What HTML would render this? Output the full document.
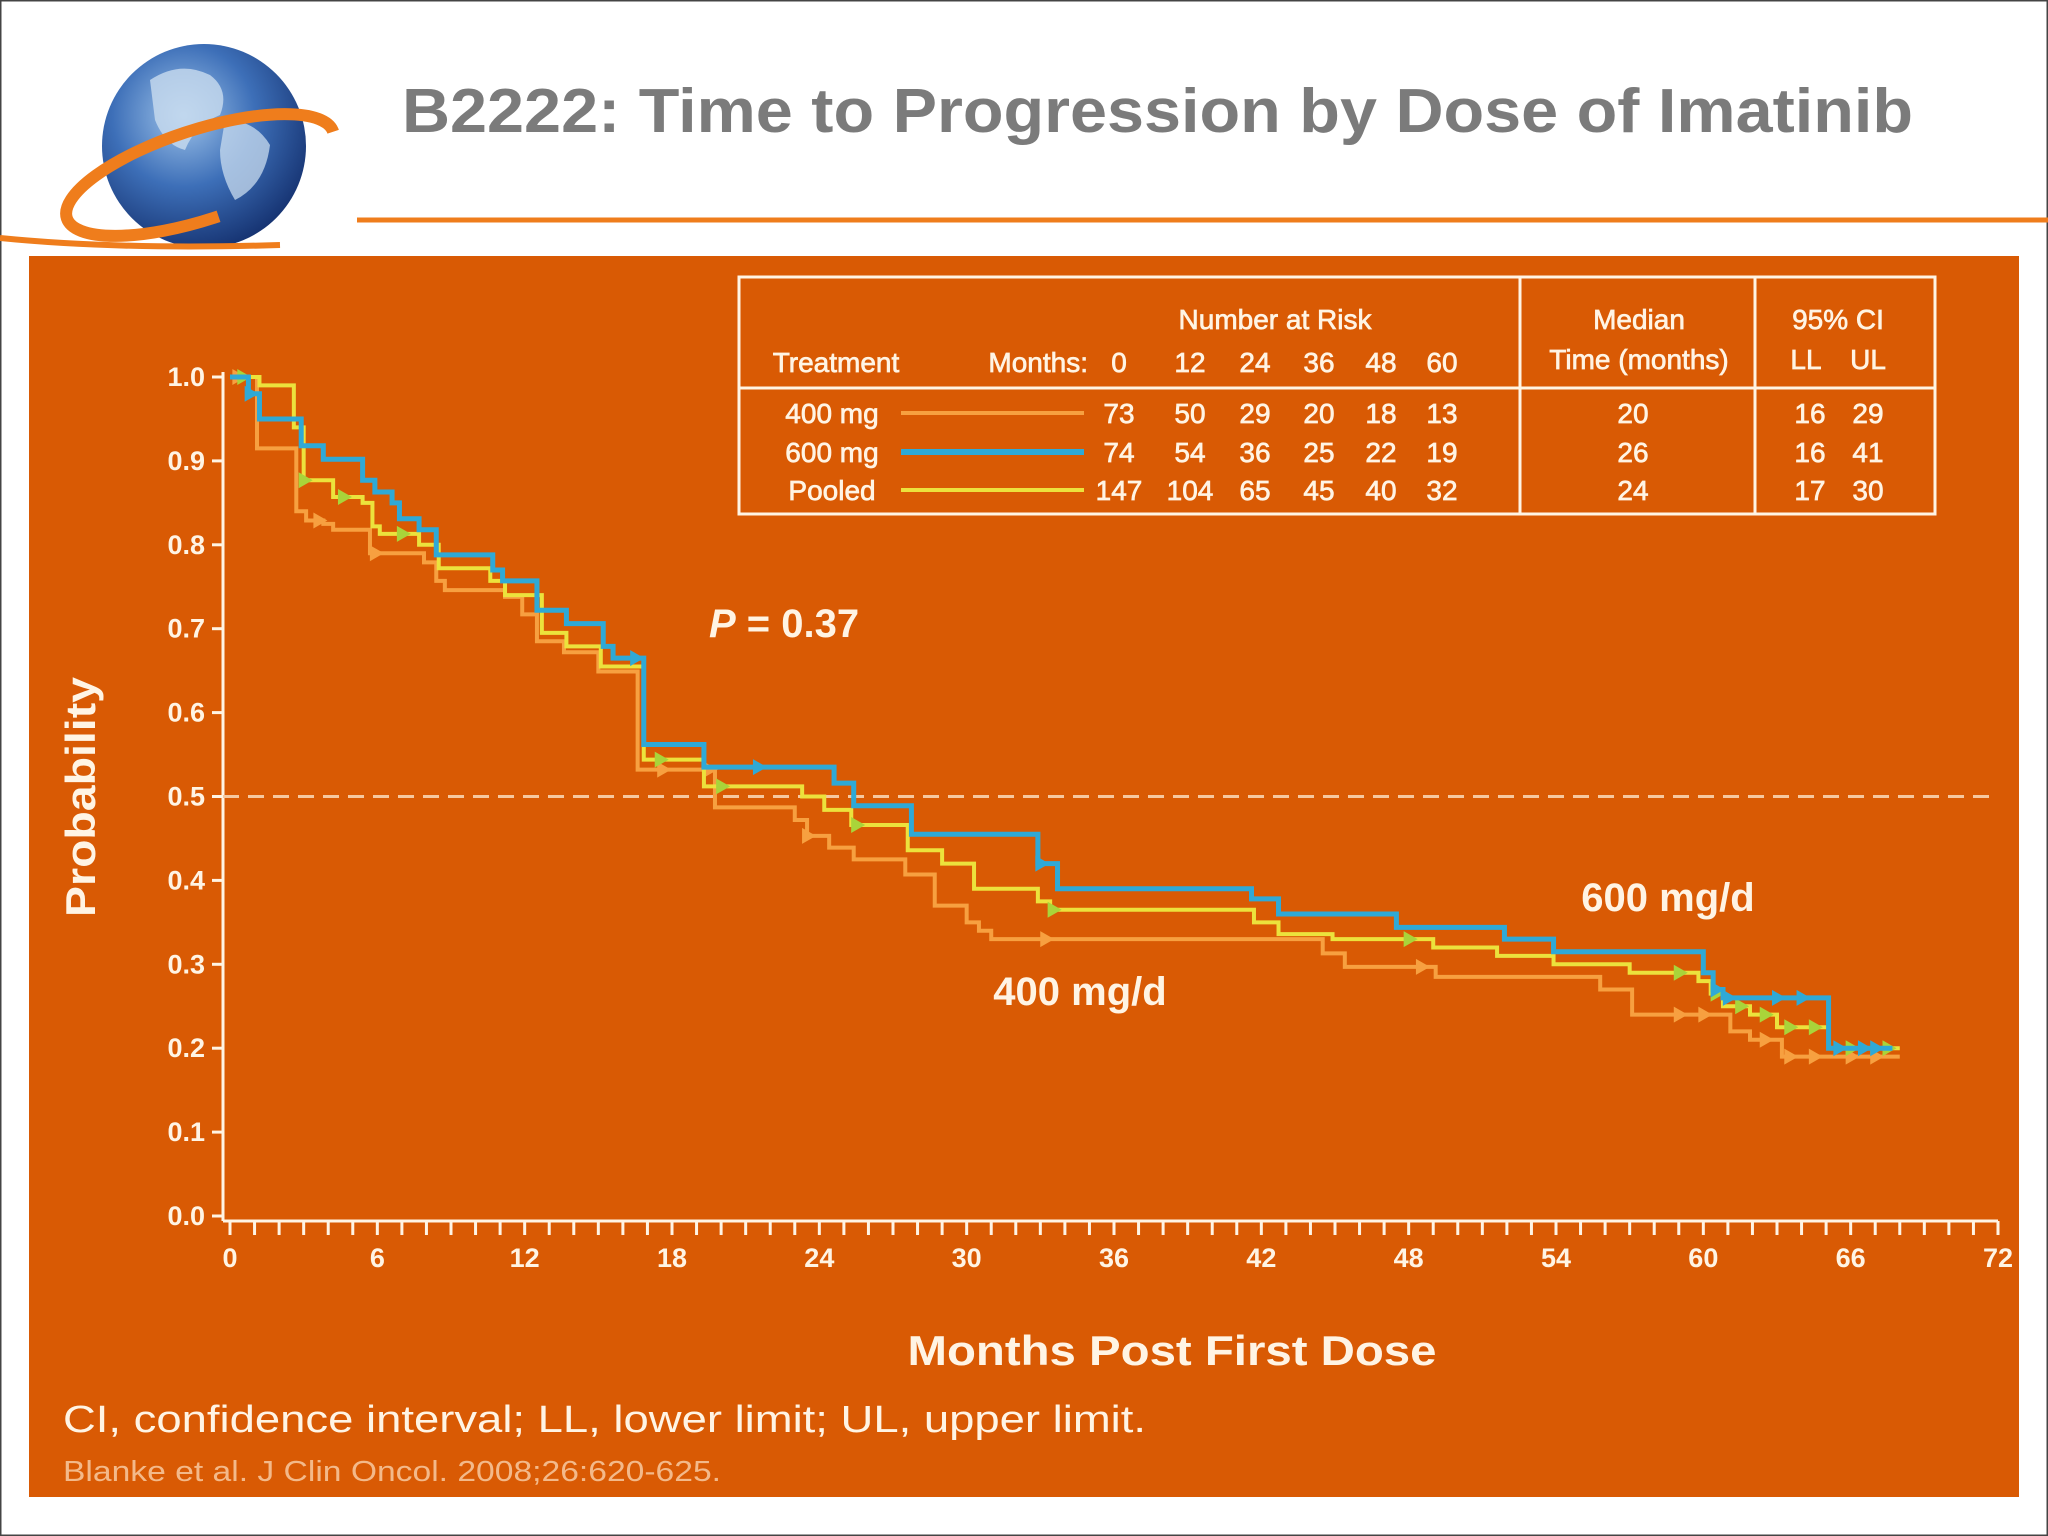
<!DOCTYPE html>
<html><head><meta charset="utf-8"><style>
html,body{margin:0;padding:0;background:#fff}
svg{display:block}
text{font-family:"Liberation Sans",sans-serif}
</style></head><body>
<svg id="c" width="2048" height="1536" viewBox="0 0 2048 1536">
<defs>
<radialGradient id="gb" cx="0.4" cy="0.35" r="0.7">
<stop offset="0" stop-color="#9fc4ea"/><stop offset="0.5" stop-color="#3d6fb8"/><stop offset="1" stop-color="#14306e"/>
</radialGradient>
</defs>
<rect x="0.5" y="0.5" width="2047" height="1535" fill="#fff" stroke="#444" stroke-width="2"/>
<g>
<circle cx="204" cy="146" r="102" fill="url(#gb)"/>
<path d="M150 80 q30 -20 60 -5 q20 15 10 40 q-25 10 -35 35 q-20 -5 -30 -30 z" fill="#c9dcef" opacity="0.8"/>
<path d="M225 120 q30 0 45 25 q-5 40 -35 55 q-15 -25 -15 -50 z" fill="#c9dcef" opacity="0.75"/>
<ellipse cx="200" cy="175" rx="140" ry="45" fill="none" stroke="#ef7d1c" stroke-width="12" transform="rotate(-18 200 175)" stroke-dasharray="560 300" stroke-dashoffset="-150"/>
</g>
<path d="M0 238 Q120 250 280 245" stroke="#ef7d1c" stroke-width="6" fill="none"/>
<line x1="357" y1="220" x2="2048" y2="220" stroke="#ef7d1c" stroke-width="5"/>
<text x="402" y="132" textLength="1511" lengthAdjust="spacingAndGlyphs" font-size="62" font-weight="bold" fill="#7b7b7b">B2222: Time to Progression by Dose of Imatinib</text>
<rect x="29" y="256" width="1990" height="1241" fill="#d95a04"/>

<g fill="#fff4e4" font-size="28" stroke="#fff4e4" stroke-width="0.7">
<rect x="739" y="277" width="1196" height="237" fill="none" stroke="#fff4e4" stroke-width="3"/>
<line x1="739" y1="388" x2="1935" y2="388" stroke="#fff4e4" stroke-width="3"/>
<line x1="1520" y1="277" x2="1520" y2="514" stroke="#fff4e4" stroke-width="3"/>
<line x1="1755" y1="277" x2="1755" y2="514" stroke="#fff4e4" stroke-width="3"/>
<text x="1275" y="329" text-anchor="middle">Number at Risk</text>
<text x="836" y="372" text-anchor="middle">Treatment</text>
<text x="1088" y="372" text-anchor="end">Months:</text>
<text x="1639" y="329" text-anchor="middle">Median</text>
<text x="1639" y="369" text-anchor="middle">Time (months)</text>
<text x="1838" y="329" text-anchor="middle">95% CI</text>
<text x="1806" y="369" text-anchor="middle">LL</text>
<text x="1868" y="369" text-anchor="middle">UL</text>
<g id="tbl"></g>
</g>

<text x="784" y="637" text-anchor="middle" font-size="40" font-weight="bold" fill="#fff4e4"><tspan font-style="italic">P</tspan> = 0.37</text>
<text x="1668" y="911" text-anchor="middle" font-size="40" font-weight="bold" fill="#fff4e4">600 mg/d</text>
<text x="1080" y="1005" text-anchor="middle" font-size="40" font-weight="bold" fill="#fff4e4">400 mg/d</text>
<text transform="translate(95 797) rotate(-90)" text-anchor="middle" textLength="240" lengthAdjust="spacingAndGlyphs" font-size="42" font-weight="bold" fill="#fff4e4">Probability</text>
<text x="1172" y="1365" text-anchor="middle" textLength="529" lengthAdjust="spacingAndGlyphs" font-size="42" font-weight="bold" fill="#fff4e4">Months Post First Dose</text>
<text x="63" y="1432" textLength="1083" lengthAdjust="spacingAndGlyphs" font-size="38" fill="#fff4e4">CI, confidence interval; LL, lower limit; UL, upper limit.</text>
<text x="63" y="1481" textLength="658" lengthAdjust="spacingAndGlyphs" font-size="29" fill="#f3b98a">Blanke et al. J Clin Oncol. 2008;26:620-625.</text>
<g id="plot"></g>
</svg>
<script>
const months=[0,12,24,36,48,60];
const risk400=[73,50,29,20,18,13];
const risk600=[74,54,36,25,22,19];
const riskPooled=[147,104,65,45,40,32];
const medians=[20,26,24];
const ciLL=[16,16,17];
const ciUL=[29,41,30];
const yTicks=[0,0.1,0.2,0.3,0.4,0.5,0.6,0.7,0.8,0.9,1.0];
const xTicks=[0,6,12,18,24,30,36,42,48,54,60,66,72];
// step curves: [month, survival after step]
const s600=[[0,1],[0.75,0.98],[1.2,0.95],[2.9,0.918],[3.8,0.902],[5.4,0.877],[5.9,0.863],[6.6,0.85],[6.9,0.831],[7.7,0.818],[8.4,0.788],[10.7,0.77],[11.1,0.757],[12.5,0.722],[13.7,0.706],[15.2,0.679],[15.6,0.665],[16.85,0.562],[19.3,0.535],[24.6,0.516],[25.4,0.489],[27.75,0.455],[32.9,0.42],[33.7,0.39],[41.6,0.378],[42.7,0.36],[47.5,0.344],[51.9,0.33],[53.9,0.315],[60,0.29],[60.4,0.27],[60.8,0.26],[65.1,0.2],[67.7,0.2]];
const sPooled=[[0,1],[1.2,0.99],[2.6,0.94],[3.0,0.877],[4.2,0.857],[5.4,0.85],[5.8,0.822],[6.1,0.813],[7.7,0.8],[8.5,0.772],[10.6,0.757],[11.2,0.74],[12.7,0.695],[13.7,0.679],[15.1,0.655],[16.85,0.544],[19.3,0.512],[23.3,0.5],[24.2,0.484],[25.3,0.466],[27.6,0.436],[29,0.42],[30.3,0.39],[32.9,0.375],[33.4,0.365],[41.7,0.35],[42.7,0.336],[44.9,0.33],[49,0.32],[51.6,0.31],[53.9,0.3],[57,0.29],[59.8,0.28],[60.3,0.265],[60.8,0.25],[61.9,0.24],[63,0.225],[65.1,0.2],[68,0.2]];
const s400=[[0,1],[1.1,0.915],[2.7,0.84],[3.1,0.829],[3.8,0.825],[4.2,0.818],[5.7,0.79],[7.9,0.779],[8.4,0.757],[8.75,0.746],[11.2,0.738],[11.9,0.717],[12.5,0.685],[13.6,0.672],[15,0.649],[16.6,0.532],[19.75,0.487],[23,0.472],[23.5,0.453],[24.4,0.439],[25.4,0.425],[27.5,0.407],[28.7,0.37],[30,0.35],[30.5,0.34],[31,0.33],[44.5,0.313],[45.4,0.297],[49.1,0.285],[55.8,0.27],[57.1,0.24],[61.1,0.22],[61.9,0.21],[63.2,0.19],[68,0.19]];
const cens600=[0.8,16.5,21.5,33,60.5,61,63,64,65.5,66.5,67];
const censPooled=[0.5,3,4.6,7,17.5,20,25.5,33.5,48,59,60.5,61.5,62.5,63.5,64.5,66,67.5];
const cens400=[0.3,3.6,5.9,17.6,19.5,23.5,33.2,48.5,59,60,62.5,63.5,64.5,66,67];

const NS='http://www.w3.org/2000/svg';
const plot=document.getElementById('plot');
const X=m=>230+m*(1768/72);
const Y=p=>1216-p*839;
function mk(tag,attrs,parent){const e=document.createElementNS(NS,tag);for(const k in attrs)e.setAttribute(k,attrs[k]);(parent||plot).appendChild(e);return e;}

const tbl=document.getElementById('tbl');
const rowNames=['400 mg','600 mg','Pooled'];
const rowCols=['#f7a040','#2fa9d6','#ece23c'];
const rowData=[risk400,risk600,riskPooled];
const rowY=[423,462,500];
const colX=[1119,1190,1255,1319,1381,1442];
for(let r=0;r<3;r++){
  const g=mk('g',{},tbl);
  
  
  const t=mk('text',{x:832,y:rowY[r],'text-anchor':'middle'},g);t.textContent=rowNames[r];
  const ln=mk('line',{x1:901,x2:1084,y1:rowY[r]-10,y2:rowY[r]-10,stroke:rowCols[r],'stroke-width':r==1?6:4},g);
  
  
  for(let i=0;i<months.length;i++){const tt=mk('text',{x:colX[i],y:rowY[r],'text-anchor':'middle'},g);tt.textContent=rowData[r][i];}
  const m=mk('text',{x:1633,y:rowY[r],'text-anchor':'middle'},g);m.textContent=medians[r];
  const a=mk('text',{x:1810,y:rowY[r],'text-anchor':'middle'},g);a.textContent=ciLL[r];
  const b=mk('text',{x:1868,y:rowY[r],'text-anchor':'middle'},g);b.textContent=ciUL[r];
}
for(let i=0;i<months.length;i++){const t=mk('text',{x:colX[i],y:372,'text-anchor':'middle'},tbl);t.textContent=months[i];}

const ax=mk('g',{stroke:'#fff4e4','stroke-width':3,fill:'none'});


mk('line',{x1:223,y1:372,x2:223,y2:1221},ax);
mk('line',{x1:223,y1:1221,x2:X(72),y2:1221},ax);
for(let m=0;m<=72;m++)mk('line',{x1:X(m),x2:X(m),y1:1221,y2:1235},ax);
for(const p of yTicks)mk('line',{x1:212,x2:223,y1:Y(p),y2:Y(p)},ax);
for(const p of yTicks){const t=mk('text',{x:205,y:Y(p)+9,'text-anchor':'end','font-size':27,'font-weight':'bold',fill:'#fff4e4'});t.textContent=p.toFixed(1);

}
for(const m of xTicks){const t=mk('text',{x:X(m),y:1267,'text-anchor':'middle','font-size':27,'font-weight':'bold',fill:'#fff4e4'});t.textContent=m;

}
const ref=mk('line',{x1:223,x2:1992,y1:Y(0.5),y2:Y(0.5),stroke:'#f6c8a0','stroke-width':3,'stroke-dasharray':'16 9'});



function stepPath(s){let d='M'+X(s[0][0])+' '+Y(s[0][1]);for(let i=1;i<s.length;i++){d+=' H'+X(s[i][0])+' V'+Y(s[i][1]);}return d;}
function valAt(s,m){let v=s[0][1];for(const p of s){if(p[0]<=m)v=p[1];}return v;}
function drawCurve(s,cens,col,mcol,w,name){
  const g=mk('g',{});
  
  
  mk('path',{d:stepPath(s),stroke:col,'stroke-width':w,fill:'none'},g);
  for(const c of cens){const x=X(c),y=Y(valAt(s,c));
    const tri=mk('path',{d:`M${x-5} ${y-8} L${x+9} ${y} L${x-5} ${y+8} Z`,fill:mcol},g);
    
    }
}
drawCurve(s400,cens400,'#f7a040','#f7a040',4,'curve-400mg');
drawCurve(sPooled,censPooled,'#ece23c','#a9d43a',4,'curve-pooled');
drawCurve(s600,cens600,'#2fa9d6','#2fa9d6',5,'curve-600mg');
</script>
</body></html>
